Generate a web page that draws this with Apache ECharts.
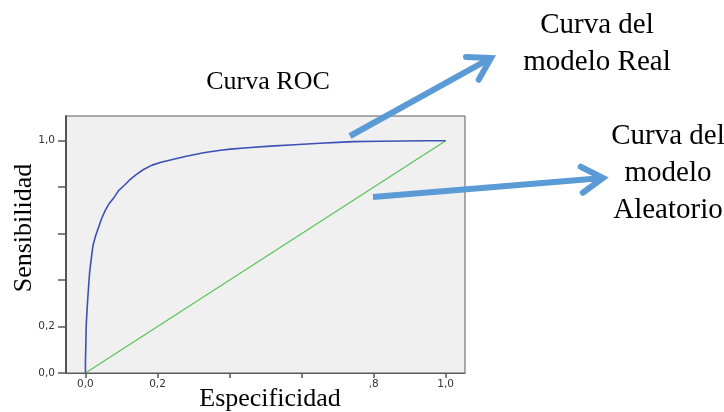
<!DOCTYPE html>
<html>
<head>
<meta charset="utf-8">
<script src="https://cdn.jsdelivr.net/npm/echarts@6/dist/echarts.min.js"></script>
<style>
  html, body { margin: 0; padding: 0; background: #ffffff; }
  #chart { width: 724px; height: 412px; }
</style>
</head>
<body>
<div id="chart"></div>
<script>
// ROC curve of the fitted model (1 - specificity on x, sensitivity on y)
const rocX = [0, 0.000, 0.001, 0.002, 0.004, 0.006, 0.009, 0.012, 0.016, 0.021,
              0.028, 0.037, 0.045, 0.055, 0.066, 0.079, 0.092, 0.106, 0.122, 0.139,
              0.160, 0.185, 0.210, 0.236, 0.280, 0.328, 0.370, 0.402, 0.450, 0.513,
              0.580, 0.651, 0.700, 0.744, 0.820, 0.882, 0.950, 1.000];
const rocY = [0, 0.05, 0.12, 0.20, 0.26, 0.31, 0.38, 0.44, 0.49, 0.55,
              0.59, 0.63, 0.665, 0.70, 0.73, 0.755, 0.785, 0.805, 0.83, 0.852,
              0.875, 0.895, 0.907, 0.917, 0.933, 0.948, 0.958, 0.964, 0.970, 0.977,
              0.983, 0.989, 0.993, 0.996, 0.998, 0.999, 1.000, 1.000];

// Reference (random classifier) diagonal
const refX = [0, 1];
const refY = [0, 1];

// Axis ticks and the labels that are printed
const xTickValues = [0, 0.2, 0.4, 0.6, 0.8, 1.0];
const xLabelValues = [0, 0.2, 0.8, 1.0];
const xLabelTexts = ['0,0', '0,2', ',8', '1,0'];
const yTickValues = [0, 0.2, 0.4, 0.6, 0.8, 1.0];
const yLabelValues = [0, 0.2, 1.0];
const yLabelTexts = ['0,0', '0,2', '1,0'];

const serif = "'Liberation Serif', 'Times New Roman', serif";
const arrowColor = '#5b9bd5';

function pairs(xs, ys) { return xs.map((x, i) => [x, ys[i]]); }
function labelFor(values, texts) {
  return v => {
    const i = values.findIndex(t => Math.abs(t - v) < 1e-6);
    return i >= 0 ? texts[i] : '';
  };
}

// Thick callout arrow with an open chevron head
function arrow(x1, y1, x2, y2, headLen, headAngle) {
  const a = Math.atan2(y2 - y1, x2 - x1);
  const p1 = [x2 - headLen * Math.cos(a - headAngle), y2 - headLen * Math.sin(a - headAngle)];
  const p2 = [x2 - headLen * Math.cos(a + headAngle), y2 - headLen * Math.sin(a + headAngle)];
  return [
    { type: 'line', shape: { x1, y1, x2: x2 - 3 * Math.cos(a), y2: y2 - 3 * Math.sin(a) },
      style: { stroke: arrowColor, lineWidth: 6, lineCap: 'butt' }, z: 100 },
    { type: 'polyline', shape: { points: [p1, [x2, y2], p2] },
      style: { stroke: arrowColor, lineWidth: 6, lineJoin: 'miter', lineCap: 'round', fill: null }, z: 100 }
  ];
}

function text(str, x, y, size, extra) {
  return Object.assign({
    type: 'text', x, y, z: 110,
    style: { text: str, font: size + 'px ' + serif, fill: '#000', align: 'center', verticalAlign: 'middle' }
  }, extra || {});
}

const chart = echarts.init(document.getElementById('chart'), null, { renderer: 'canvas' });

chart.setOption({
  animation: false,
  backgroundColor: '#ffffff',
  grid: {
    left: 66, right: 259, top: 116, bottom: 39,
    show: true, backgroundColor: '#f0f0f0', borderColor: '#5a5a5a', borderWidth: 1
  },
  xAxis: {
    type: 'value', min: -0.054, max: 1.0536,
    axisLine: { show: true, lineStyle: { color: '#5a5a5a', width: 1 } },
    axisTick: { show: true, length: 5, customValues: xTickValues, lineStyle: { color: '#555', width: 1.5 } },
    axisLabel: {
      customValues: xLabelValues, formatter: labelFor(xLabelValues, xLabelTexts),
      margin: 6, color: '#333', fontFamily: 'DejaVu Sans', fontSize: 10.5
    },
    splitLine: { show: false }
  },
  yAxis: {
    type: 'value', min: 0, max: 1.1065,
    axisLine: { show: true, onZero: false, lineStyle: { color: '#555', width: 2 } },
    axisTick: { show: true, length: 8, customValues: yTickValues, lineStyle: { color: '#555', width: 1.5 } },
    axisLabel: {
      customValues: yLabelValues, formatter: labelFor(yLabelValues, yLabelTexts),
      margin: 11, color: '#333', fontFamily: 'DejaVu Sans', fontSize: 10.5
    },
    splitLine: { show: false }
  },
  series: [
    {
      name: 'Aleatorio', type: 'line', data: pairs(refX, refY), showSymbol: false,
      lineStyle: { color: '#58c458', width: 1.2 }, z: 2
    },
    {
      name: 'Real', type: 'line', data: pairs(rocX, rocY), showSymbol: false,
      lineStyle: { color: '#3d50b4', width: 1.6 }, z: 3
    }
  ],
  graphic: [
    text('Curva ROC', 268, 82.5, 26),
    text('Especificidad', 270, 399.5, 26),
    text('Sensibilidad', 24.5, 228, 26, { rotation: Math.PI / 2 }),
    text('Curva del', 597, 25.5, 29),
    text('modelo Real', 597, 62, 29),
    text('Curva del', 668, 136.5, 29),
    text('modelo', 668, 173.5, 29),
    text('Aleatorio', 668, 210.5, 29),
    ...arrow(350, 136, 491, 58, 25, 0.55),
    ...arrow(373, 197, 603, 178, 25, 0.55)
  ]
});
</script>
</body>
</html>
